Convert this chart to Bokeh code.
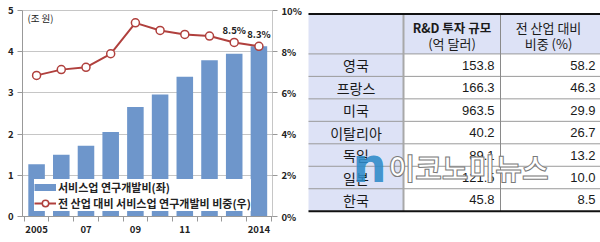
from bokeh.plotting import figure
from bokeh.models import (Range1d, LinearAxis, FixedTicker, PrintfTickFormatter,
                          Legend, LegendItem, Label)
from bokeh.layouts import row
from bokeh.core.properties import value
from bokeh.embed import file_html
from bokeh.resources import INLINE

# ---------------- data ----------------
years = [2005, 2006, 2007, 2008, 2009, 2010, 2011, 2012, 2013, 2014]
rd_trillion_won = [1.27, 1.50, 1.72, 2.05, 2.66, 2.96, 3.39, 3.79, 3.95, 4.13]
share_pct = [6.85, 7.13, 7.24, 7.90, 9.40, 9.03, 8.84, 8.76, 8.45, 8.26]
labeled_years = [2013, 2014]
labeled_share = [8.45, 8.26]
labeled_text = ["8.5%", "8.3%"]
xtick_years = [2005, 2007, 2009, 2011, 2014]
xtick_labels = ["2005", "07", "09", "11", "2014"]
left_ticks = [0, 1, 2, 3, 4, 5]
right_ticks = [0, 2, 4, 6, 8, 10]
bar_name = "서비스업 연구개발비(좌)"
line_name = "전 산업 대비 서비스업 연구개발비 비중(우)"
unit_label = "(조 원)"

countries = ["영국", "프랑스", "미국", "이탈리아", "독일", "일본", "한국"]
rd_invest_100m_usd = [153.8, 166.3, 963.5, 40.2, 89.1, 121.5, 45.8]
share_all_industry = [58.2, 46.3, 29.9, 26.7, 13.2, 10.0, 8.5]
header_col2 = ["R&D 투자 규모", "(억 달러)"]
header_col3 = ["전 산업 대비", "비중 (%)"]
watermark = "이코노미뉴스"

KR = "Noto Sans CJK KR"
BAR_C = "#6E96CB"
LINE_C = "#B0403D"
GRID_C = "#C6C6C6"
NAN = float("nan")

# ---------------- chart ----------------
p1 = figure(width=305, height=242, output_backend="svg", toolbar_location=None,
            x_range=Range1d(2004.43, 2014.55), y_range=Range1d(0, 5),
            min_border_left=22, min_border_right=33, min_border_top=10,
            min_border_bottom=26)
p1.styles = {"outline": "1px solid #c4c4c4", "outline-offset": "-2px"}
p1.extra_y_ranges = {"pct": Range1d(0, 10)}
p1.background_fill_color = "white"
p1.border_fill_color = "white"
p1.outline_line_color = GRID_C
p1.xgrid.grid_line_color = None
p1.ygrid.grid_line_color = GRID_C

xa = p1.xaxis[0]
xa.ticker = FixedTicker(ticks=xtick_years,
                        minor_ticks=[y - 0.5 for y in years] + [years[-1] + 0.5])
xa.major_label_overrides = {y: l for y, l in zip(xtick_years, xtick_labels)}
xa.major_tick_in = 0
xa.major_tick_out = 0
xa.minor_tick_in = 0
xa.minor_tick_out = 5
xa.minor_tick_line_color = "#999999"
xa.axis_line_color = "#999999"
xa.major_label_standoff = 4
xa.major_label_text_font = KR
xa.major_label_text_font_style = "bold"
xa.major_label_text_font_size = "9.5px"
xa.major_label_text_color = "#222222"

ya = p1.yaxis[0]
ya.ticker = FixedTicker(ticks=left_ticks)
ya.major_tick_in = 0
ya.major_tick_out = 5
ya.minor_tick_line_color = None
ya.axis_line_color = "#999999"
ya.major_tick_line_color = "#999999"
ya.major_label_standoff = 4
ya.major_label_text_font = KR
ya.major_label_text_font_style = "bold"
ya.major_label_text_font_size = "9.5px"
ya.major_label_text_color = "#222222"

ra = LinearAxis(y_range_name="pct", ticker=FixedTicker(ticks=right_ticks),
                formatter=PrintfTickFormatter(format="%d%%"))
ra.major_tick_in = 0
ra.major_tick_out = 5
ra.minor_tick_line_color = None
ra.axis_line_color = None
ra.major_tick_line_color = "#999999"
ra.major_label_standoff = 4
ra.major_label_text_font = KR
ra.major_label_text_font_style = "bold"
ra.major_label_text_font_size = "9.5px"
ra.major_label_text_color = "#222222"
p1.add_layout(ra, "right")

bars = p1.vbar(x=years, top=rd_trillion_won, width=0.67, fill_color=BAR_C,
               line_color=None)
ln = p1.line(years, share_pct, y_range_name="pct", line_color=LINE_C, line_width=2)
pts = p1.scatter(years, share_pct, y_range_name="pct", marker="circle", size=8,
                 fill_color="white", line_color=LINE_C, line_width=1.5)
p1.text(x=labeled_years, y=labeled_share, text=labeled_text, y_range_name="pct",
        text_align="center", text_baseline="bottom", y_offset=-5,
        text_font=value(KR), text_font_style="bold", text_font_size="9.5px",
        text_color="#222222")

p1.add_layout(Label(x=2004.63, y=4.83, text=unit_label, text_baseline="middle",
                    text_font=KR, text_font_size="9.5px", text_color="#222222"))

# legend swatch for the bars (thin, wide patch like the original); draws nothing
bar_swatch = p1.line(x=[NAN], y=[NAN], line_color=BAR_C, line_width=7,
                     line_cap="butt")

legend = Legend(items=[LegendItem(label=bar_name, renderers=[bar_swatch]),
                       LegendItem(label=line_name, renderers=[ln, pts])],
                location=(12, 5), orientation="vertical",
                label_text_font=KR, label_text_font_style="bold",
                label_text_font_size="11px", label_text_color="#222222",
                glyph_width=22, glyph_height=16, label_height=16,
                label_standoff=2, spacing=0, padding=2, margin=0,
                border_line_color=None, background_fill_color="white",
                background_fill_alpha=1.0)
p1.add_layout(legend, "center")

# ---------------- table ----------------
p2 = figure(width=295, height=242, output_backend="svg", toolbar_location=None,
            x_range=Range1d(0, 295), y_range=Range1d(242, 0), min_border=0)
p2.axis.visible = False
p2.grid.grid_line_color = None
p2.outline_line_color = None
p2.background_fill_color = "white"
p2.border_fill_color = "white"

LAV = "#DDE2F6"
col_edges = [3, 98, 195, 295]
header_top, header_bottom, row_h = 4, 51, 26.4
n = len(countries)
row_tops = [header_bottom + i * row_h for i in range(n)]
row_mid = [t + row_h / 2 for t in row_tops]
table_bottom = header_bottom + n * row_h

p2.quad(left=[col_edges[0]], right=[col_edges[3]], top=[header_top],
        bottom=[header_bottom], fill_color=LAV, line_color=None)
p2.quad(left=[col_edges[0]], right=[col_edges[1]], top=[header_bottom],
        bottom=[table_bottom], fill_color=LAV, line_color=None)

seps = [header_bottom + i * row_h for i in range(n)]
p2.segment(x0=[col_edges[0]] * n, x1=[col_edges[3]] * n, y0=seps, y1=seps,
           line_color="#9A9A9A", line_width=1)
p2.segment(x0=[col_edges[1]], x1=[col_edges[1]], y0=[header_top], y1=[table_bottom],
           line_color="#A8A8A8", line_width=2)
p2.segment(x0=[col_edges[2]], x1=[col_edges[2]], y0=[header_top], y1=[table_bottom],
           line_color="#8A8A8A", line_width=1)
p2.segment(x0=[col_edges[0]] * 2, x1=[col_edges[3]] * 2,
           y0=[header_top, table_bottom], y1=[header_top, table_bottom],
           line_color="#111111", line_width=2)

c1 = (col_edges[0] + col_edges[1]) / 2
c2 = (col_edges[1] + col_edges[2]) / 2
c3 = (col_edges[2] + col_edges[3]) / 2
p2.text(x=[c1] * n, y=row_mid, text=countries, text_align="center",
        text_baseline="middle", text_font=value(KR), text_font_size="14px",
        text_color="#1a1a1a")
p2.text(x=[col_edges[2] - 6] * n, y=row_mid,
        text=[f"{v:.1f}" for v in rd_invest_100m_usd], text_align="right",
        text_baseline="middle", text_font=value("Liberation Sans"),
        text_font_size="13px", text_color="#1a1a1a")
p2.text(x=[col_edges[3] - 5] * n, y=row_mid,
        text=[f"{v:.1f}" for v in share_all_industry], text_align="right",
        text_baseline="middle", text_font=value("Liberation Sans"),
        text_font_size="13px", text_color="#1a1a1a")
p2.text(x=[c2], y=[20], text=[header_col2[0]], text_align="center",
        text_baseline="middle", text_font=value(KR), text_font_style="bold",
        text_font_size="12.5px", text_color="#1a1a1a")
p2.text(x=[c2], y=[39], text=[header_col2[1]], text_align="center",
        text_baseline="middle", text_font=value(KR), text_font_size="13px",
        text_color="#1a1a1a")
p2.text(x=[c3 - 2, c3 - 2], y=[20, 39], text=header_col3, text_align="center",
        text_baseline="middle", text_font=value(KR), text_font_size="13px",
        text_color="#1a1a1a")

# watermark overlay
p2.text(x=[47], y=[182], text=["n"], text_align="left", text_baseline="middle",
        text_font=value("DejaVu Sans"), text_font_style="bold",
        text_font_size="48px", text_color="#2E8BC9", text_alpha=0.9)
p2.text(x=[83], y=[184], text=[watermark], text_align="left",
        text_baseline="middle", text_font=value(KR), text_font_style="bold",
        text_font_size="29px", text_color="white", text_outline_color="#7A7A7A")

layout = row(p1, p2)
open("out.html", "w").write(file_html(layout, INLINE))
